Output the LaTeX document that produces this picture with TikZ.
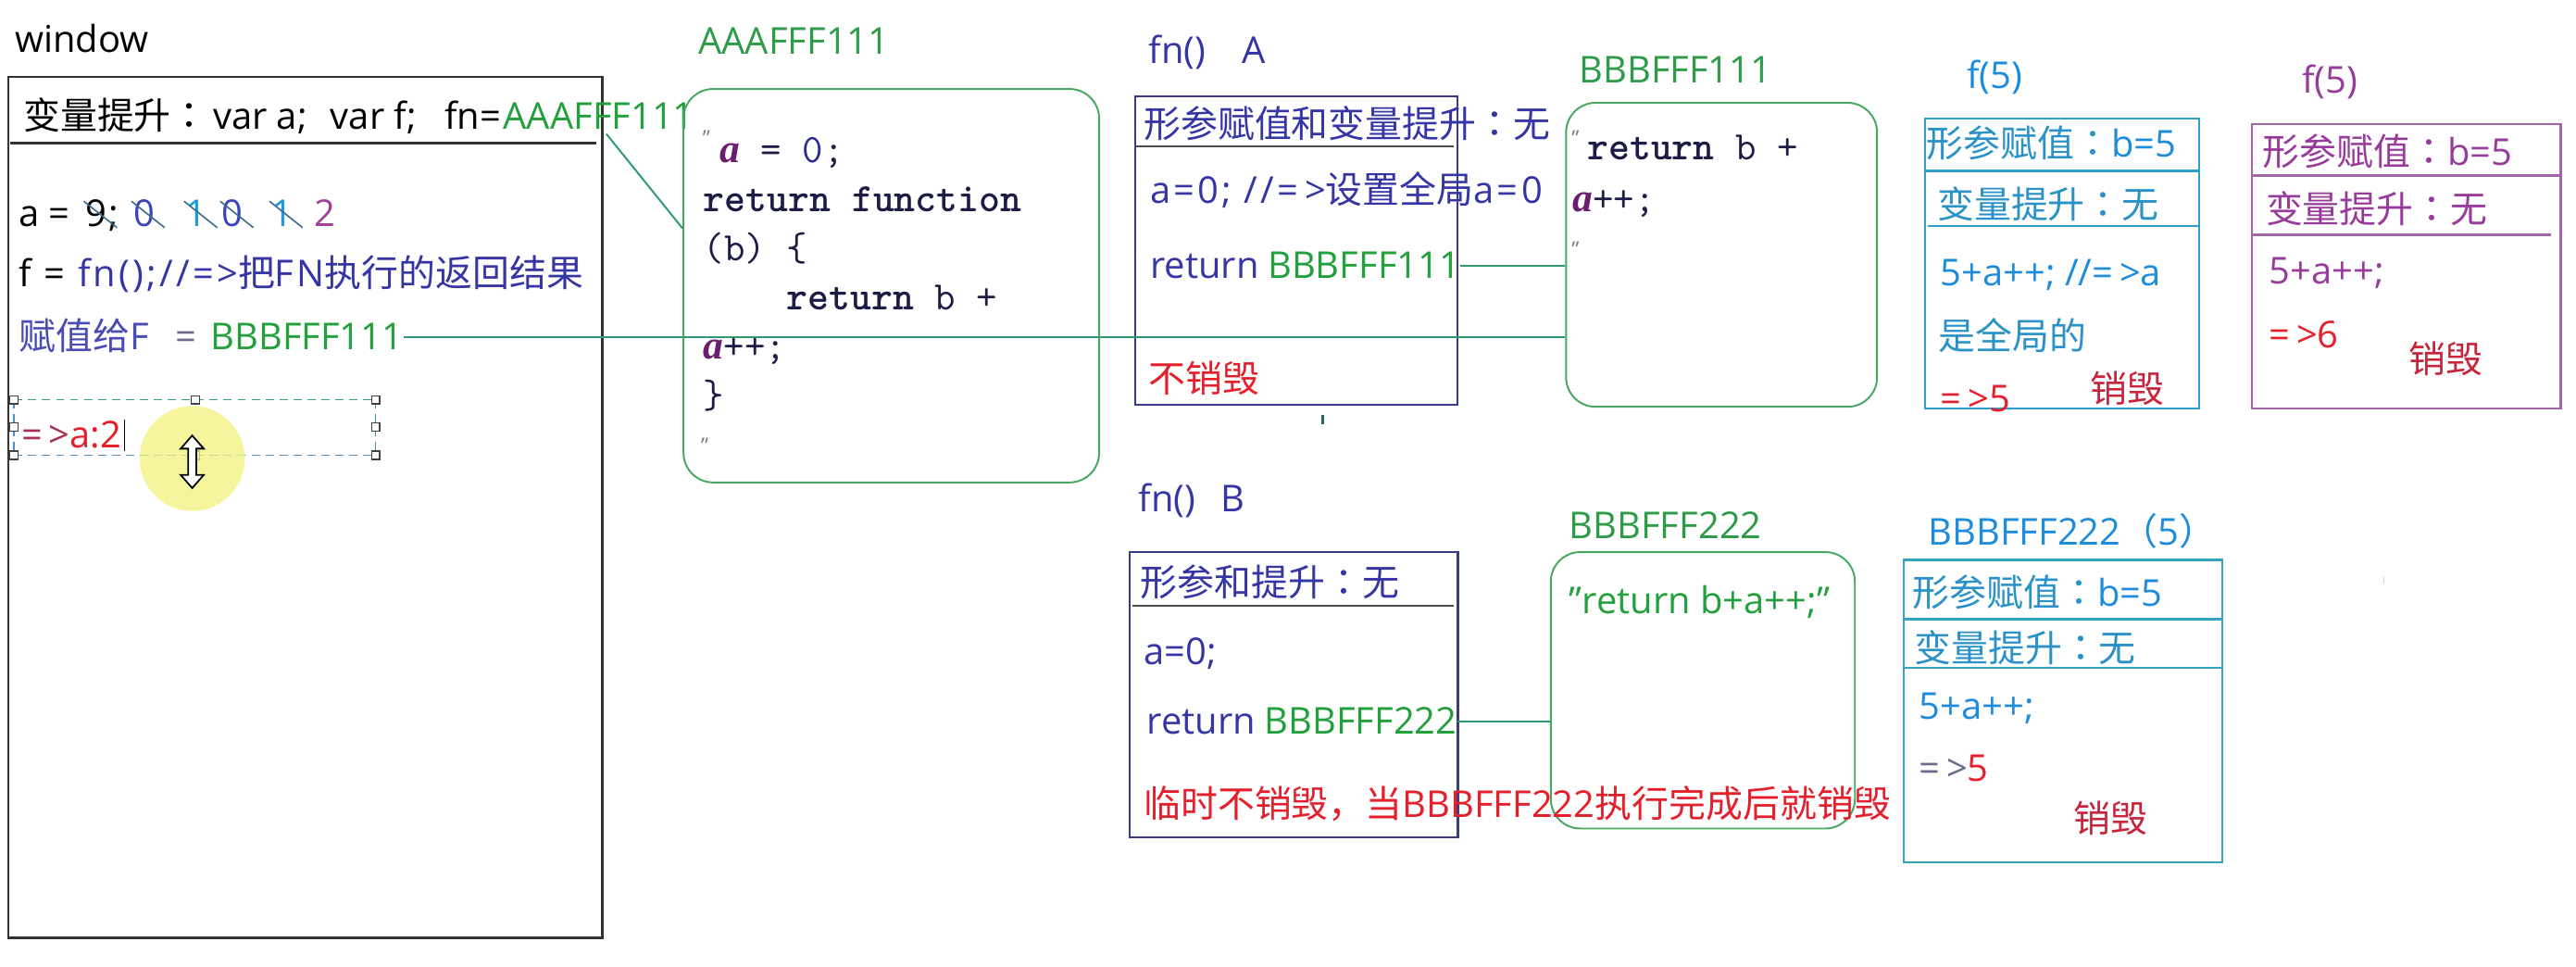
\documentclass[tikz,border=0pt]{standalone}
\usepackage{fontspec}
\setmainfont{Open Sans}
\newfontfamily\zhfont{Noto Sans CJK SC}
\newfontfamily\zhtc{Noto Sans CJK TC}
\newfontfamily\jsserif{Liberation Serif}
\usetikzlibrary{positioning,calc}

\definecolor{navy}{HTML}{3535A5}
\definecolor{navytwo}{HTML}{4B4BB4}
\definecolor{navyframe}{HTML}{3A3A8A}
\definecolor{grn}{HTML}{22A03C}
\definecolor{grnlbl}{HTML}{2E9B48}
\definecolor{grnframe}{HTML}{48A862}
\definecolor{conngrn}{HTML}{2F9A6E}
\definecolor{jsred}{HTML}{E4202C}
\definecolor{darkred}{HTML}{C8243C}
\definecolor{maroon}{HTML}{A83050}
\definecolor{cyantxt}{HTML}{2A92C6}
\definecolor{cyanframe}{HTML}{2C9FCC}
\definecolor{bluetxt}{HTML}{1E8CDC}
\definecolor{tealframe}{HTML}{35A2BE}
\definecolor{purptxt}{HTML}{983C9C}
\definecolor{purpframe}{HTML}{A066A8}
\definecolor{codeink}{HTML}{1C1C44}
\definecolor{codeblue}{HTML}{2A2A90}
\definecolor{codepurp}{HTML}{6A1E6E}
\definecolor{zeroblue}{HTML}{3844B8}
\definecolor{onecyan}{HTML}{1C9ADA}
\definecolor{twopurp}{HTML}{A0409A}
\definecolor{strikeblue}{HTML}{3A6E90}
\definecolor{eqgray}{HTML}{6A6A8A}
\definecolor{selteal}{HTML}{3A9A8A}
\definecolor{selblue}{HTML}{4A90D8}
\definecolor{hilite}{HTML}{F3F27E}

\newcommand\zh[1]{{\zhfont #1}}
\newcommand\qcolon{{\zhtc ：}}
\newcommand\jsvar{{\jsserif\bfseries\itshape\textcolor{codepurp}{a}}}

\tikzset{
  lbl/.style={anchor=west, inner sep=0pt, text height=18pt, text depth=2.7pt,
    font=\fontsize{22.5}{27}\selectfont},
  wide/.style={font=\fontsize{22.5}{27}\selectfont\addfontfeature{LetterSpace=8}},
  codeln/.style={anchor=base west, inner sep=0pt, text=codeink,
    font=\ttfamily\fontsize{24.6}{29.8}\selectfont},
  memframe/.style={draw, line width=1.3, anchor=north west, inner sep=0pt},
  rframe/.style={memframe, draw=grnframe, line width=1.1, rounded corners=18},
  conn/.style={draw=conngrn, line width=1.1},
  uline/.style={draw=#1, line width=1.4},
  strike/.style={draw=strikeblue, line width=0.9},
  seldash/.style={dash pattern=on 5pt off 3.5pt, line width=0.9},
  grip/.style={draw=black!75, fill=white, line width=0.7},
  qmark/.style={inner sep=0pt, text=gray, font=\fontsize{13}{13}\selectfont}
}

\begin{document}
\begin{tikzpicture}[x=1pt,y=-1pt]
\fill[white] (0,0) rectangle (1568,588.4);
\useasboundingbox (0,0) rectangle (1568,588.4);

% global scope: window
\node[lbl] (winlbl) at (9,24) {window};
\node[memframe, draw=black!80, minimum width=361.7, minimum height=524] (win) at (4.3,46) {};
\node[lbl] (winhead) at (14,71) {\makebox[115.5pt][l]{\zh{变量提升}\qcolon}\makebox[71.5pt][l]{var a;}\makebox[69.5pt][l]{var f;}fn=};
\node[lbl, text=grn, right=1pt of winhead] (winA) {AAAFFF111};
\draw[uline=black!80] (6,87) -- (363,87);

\node[lbl] (aeq) at (11.3,130) {a =};
\node[lbl] (v9) at (52,130) {9};
\node[lbl] (vsemi) at (66,130) {;};
\foreach \nm/\px/\col/\dg in {v0a/81/zeroblue/0, v1a/113/onecyan/1, v0b/135/zeroblue/0, v1b/165/onecyan/1, v2/191/twopurp/2}
  \node[lbl, text=\col] (\nm) at (\px,130) {\dg};
\foreach \nm in {v9,v0a,v1a,v0b,v1b}
  \draw[strike] ($(\nm.north west)+(-1,3)$) -- ($(\nm.south east)+(6,-2)$);

\node[lbl, wide] (fcall) at (11.5,167) {f = \textcolor{navy}{fn();//=>\zh{把}FN\zh{执行的返回结果}}};
\node[lbl, text=navytwo] (fgive) at (11.5,205) {\zh{赋值给}F};
\node[lbl, text=eqgray] (fgiveeq) at (106.5,205) {=};
\node[lbl, text=grn] (winF) at (128,205) {BBBFFF111};

% selected text box with cursor
\draw[seldash, draw=selteal] (8.6,243.3) -- (228.6,243.3);
\draw[seldash, draw=selblue] (8.6,277) -- (228.6,277);
\draw[seldash, draw=selblue] (8.6,243.3) -- (8.6,277);
\draw[seldash, draw=selteal] (228.6,243.3) -- (228.6,277);
\node[lbl, text=maroon] (res) at (13,265) {=\,>\textcolor{jsred}{a:2}};
\draw[black, line width=1] ($(res.north east)+(1.5,1)$) -- ($(res.south east)+(1.5,-1)$);
\foreach \hx/\hy in {8.6/243.3, 119/243.3, 228.6/243.3, 8.6/260, 228.6/260, 8.6/277, 119/277, 228.6/277}
  \draw[grip] (\hx-2.5,\hy-2.5) rectangle ++(5,5);
\fill[hilite, opacity=.75] (117,279) circle (32);
\draw[black, fill=white, line width=1] (117,265) -- (124,273) -- (119.5,273) -- (119.5,289)
  -- (124,289) -- (117,297) -- (110,289) -- (114.5,289) -- (114.5,273) -- (110,273) -- cycle;

% heap AAAFFF111
\node[lbl, text=grnlbl] (lblA) at (425,25.6) {AAAFFF111};
\node[rframe, minimum width=253, minimum height=239.4] (boxA) at (415.5,53.6) {};
\node[qmark] (qA1) at (430,84) {"};
\node[qmark] (qA2) at (429,271) {"};
\foreach \codetext [count=\i] in {{\hspace{10pt}\jsvar\ = \textcolor{codeblue}{0};}, {\textbf{return function}},
    {(b) \{}, {\ \ \ \ \textbf{return} b +}, {\jsvar++;}, {\}}}
  \node[codeln] (codeA\i) at (428,{99+29.8*(\i-1)}) {\codetext};

% fn() A
\node[lbl, text=navy] (lblfnA) at (699,31) {fn()\hspace{22pt}A};
\node[memframe, draw=navyframe, minimum width=196, minimum height=187.8] (fnA) at (690.5,58) {};
\draw[uline=black!70] (690.5,89) -- (885,89);
\node[lbl, text=navy] (fnAhead) at (696,76) {\zh{形参赋值和变量提升}\qcolon\zh{无}};
\node[lbl, wide, text=navy] (fnAset) at (700,116) {a=0; //=\,>\zh{设置全局}a=0};
\node[lbl, text=navy] (fnAret) at (700,162) {return};
\node[lbl, text=grn, right=5pt of fnAret] (fnAB) {BBBFFF111};
\node[lbl, text=jsred] (fnAkeep) at (699,231) {\zh{不销毁}};
\draw[conngrn!70!black, line width=1.5] (805,252.5) -- (805,258);

% heap BBBFFF111
\node[lbl, text=grnlbl] (lbl111) at (961,43) {BBBFFF111};
\node[rframe, minimum width=189.3, minimum height=185] (box111) at (952.7,62) {};
\node[qmark] (qB1) at (959,84) {"};
\node[qmark] (qB2) at (959,152) {"};
\node[codeln] (codeB1) at (966,97) {\textbf{return} b +};
\node[codeln] (codeB2) at (957,129) {\jsvar++;};

% f(5) first call
\node[lbl, text=bluetxt] (lblf1) at (1197,46) {f(5)};
\node[memframe, draw=cyanframe, minimum width=167, minimum height=176.5] (callA) at (1171,71.5) {};
\draw[uline=cyanframe] (1171,104) -- (1338,104);
\draw[uline=cyanframe] (1173.6,137.5) -- (1338,137.5);
\node[lbl, text=cyantxt] (callAarg) at (1172.5,88) {\zh{形参赋值}\qcolon\textcolor{bluetxt}{b=5}};
\node[lbl, text=cyantxt] (callAvar) at (1179,125) {\zh{变量提升}\qcolon\zh{无}};
\node[lbl, text=bluetxt] (callAsum) at (1181,166) {5+a++; //=\,>a};
\node[lbl, text=cyantxt] (callAnote) at (1180,205) {\zh{是全局的}};
\node[lbl, text=jsred] (callAres) at (1181,243) {=\,>5};
\node[lbl, text=darkred] (callAdel) at (1272,237) {\zh{销毁}};

% f(5) second call
\node[lbl, text=purptxt] (lblf2) at (1401,49) {f(5)};
\node[memframe, draw=purpframe, minimum width=188, minimum height=173] (callB) at (1370,75) {};
\draw[uline=purpframe] (1370,106.7) -- (1558,106.7);
\draw[uline=purpframe] (1370,142.8) -- (1553,142.8);
\node[lbl, text=purptxt] (callBarg) at (1377,93) {\zh{形参赋值}\qcolon b=5};
\node[lbl, text=purptxt] (callBvar) at (1379,128) {\zh{变量提升}\qcolon\zh{无}};
\node[lbl, text=purptxt] (callBsum) at (1381,165) {5+a++;};
\node[lbl, text=jsred] (callBres) at (1381,204) {=\,>6};
\node[lbl, text=darkred] (callBdel) at (1466,219) {\zh{销毁}};

% fn() B
\node[lbl, text=navy] (lblfnB) at (693,304) {fn()\hspace{15pt}B};
\node[memframe, draw=navyframe, minimum width=199.7, minimum height=173.6] (fnB) at (687,335.4) {};
\draw[uline=black!70] (689.5,368.7) -- (885,368.7);
\node[lbl, text=navy] (fnBhead) at (694,355) {\zh{形参和提升}\qcolon\zh{无}};
\node[lbl, text=navy] (fnBset) at (696,397) {a=0;};
\node[lbl, text=navy] (fnBret) at (698,439) {return};
\node[lbl, text=grn, right=5pt of fnBret] (fnBB) {BBBFFF222};

% heap BBBFFF222
\node[lbl, text=grnlbl] (lbl222) at (955,320) {BBBFFF222};
\node[rframe, minimum width=185.1, minimum height=168.2] (box222) at (943.4,335.4) {};
\node[lbl, text=grn] (box222txt) at (955,366) {"return b+a++;"};
\node[lbl, text=jsred] (fnBkeep) at (696,490) {\zh{临时不销毁，当}BBBFFF222\zh{执行完成后就销毁}};

% BBBFFF222(5)
\node[lbl, text=bluetxt] (lbl222call) at (1173.6,324) {BBBFFF222\zh{（}5\zh{）}};
\node[memframe, draw=tealframe, minimum width=194, minimum height=184] (callC) at (1158,340) {};
\draw[uline=tealframe] (1158,376.7) -- (1352,376.7);
\draw[uline=tealframe] (1158,406.4) -- (1352,406.4);
\node[lbl, text=cyantxt] (callCarg) at (1164,361) {\zh{形参赋值}\qcolon\textcolor{bluetxt}{b=5}};
\node[lbl, text=cyantxt] (callCvar) at (1165,395) {\zh{变量提升}\qcolon\zh{无}};
\node[lbl, text=bluetxt] (callCsum) at (1168,430) {5+a++;};
\node[lbl, text=eqgray] (callCres) at (1168,468) {=\,>\textcolor{jsred}{5}};
\node[lbl, text=darkred] (callCdel) at (1262,499) {\zh{销毁}};
\draw[gray!40, line width=1] (1451,351) -- (1451,355);

% connectors
\coordinate (hdA) at ($(winA.south west)!0.54!(winA.south east)$);
\coordinate (boxAin) at ($(boxA.north west)+(0,85.4)$);
\draw[conn] (hdA) -- (boxAin);
\draw[conn] (winF.east) -- (winF.east -| box111.west);
\draw[conn] (fnAB.east) -- (fnAB.east -| box111.west);
\draw[conn] (fnBB.east) -- (fnBB.east -| box222.west);
\end{tikzpicture}
\end{document}
